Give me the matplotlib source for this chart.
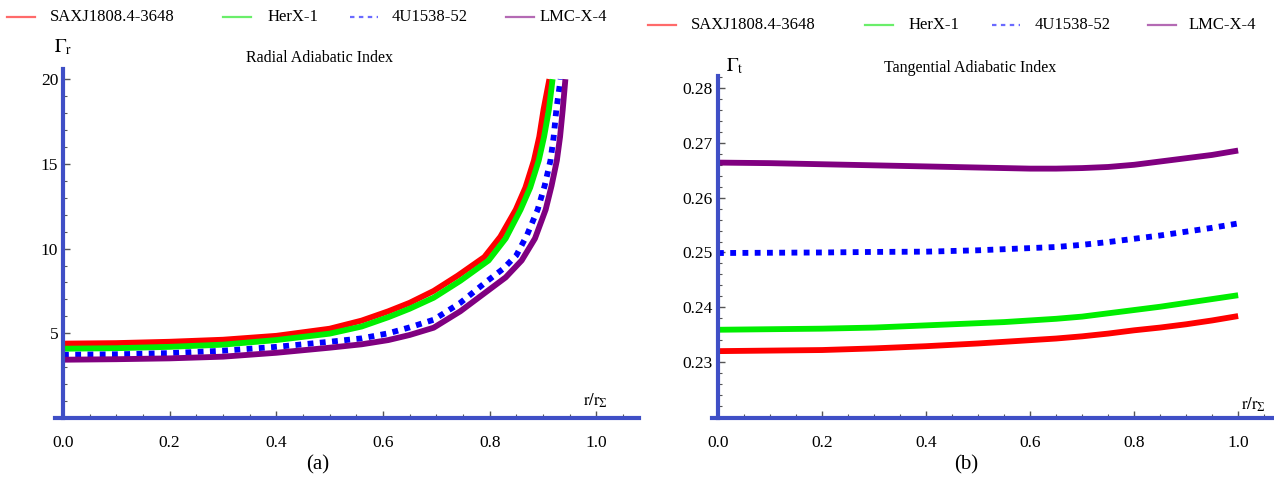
import numpy as np
import matplotlib
matplotlib.use('Agg')
import matplotlib.pyplot as plt
from matplotlib.ticker import MultipleLocator, FormatStrFormatter

plt.rcParams['font.family'] = ['Liberation Serif', 'DejaVu Serif']
plt.rcParams['mathtext.fontset'] = 'stix'

names = ['SAXJ1808.4-3648', 'HerX-1', '4U1538-52', 'LMC-X-4']
colors = ['#ff0000', '#00ee00', '#0000ff', '#800080']
leg_colors = ['#ff6a6a', '#6aee6a', '#6a6aff', '#b46ab4']

# radial adiabatic index (panel a)
r_red = [0.0, 0.1, 0.2, 0.3, 0.4, 0.5, 0.56, 0.61, 0.65, 0.695, 0.74, 0.79, 0.82, 0.849, 0.867, 0.883, 0.893, 0.901, 0.912]
g_red = [4.39, 4.42, 4.5, 4.62, 4.85, 5.27, 5.75, 6.3, 6.8, 7.5, 8.4, 9.5, 10.7, 12.3, 13.6, 15.2, 16.6, 18.2, 20.0]
r_grn = [0.0, 0.1, 0.2, 0.3, 0.4, 0.5, 0.56, 0.61, 0.65, 0.695, 0.745, 0.798, 0.83, 0.858, 0.876, 0.892, 0.902, 0.911, 0.918]
g_grn = [4.09, 4.12, 4.2, 4.33, 4.6, 4.98, 5.4, 5.95, 6.45, 7.1, 8.1, 9.3, 10.6, 12.3, 13.6, 15.2, 16.6, 18.2, 20.0]
r_blu = [0.0, 0.1, 0.2, 0.3, 0.4, 0.5, 0.56, 0.61, 0.65, 0.695, 0.745, 0.796, 0.825, 0.85, 0.87, 0.89, 0.903, 0.914, 0.92, 0.925, 0.933]
g_blu = [3.73, 3.76, 3.83, 3.97, 4.2, 4.5, 4.7, 5.0, 5.35, 5.8, 6.8, 8.1, 8.8, 9.6, 10.8, 12.3, 13.7, 15.2, 16.6, 18.2, 20.0]
r_pur = [0.0, 0.1, 0.2, 0.3, 0.4, 0.5, 0.56, 0.61, 0.65, 0.695, 0.745, 0.796, 0.83, 0.86, 0.885, 0.905, 0.916, 0.926, 0.932, 0.937, 0.942]
g_pur = [3.44, 3.47, 3.52, 3.62, 3.85, 4.15, 4.35, 4.6, 4.9, 5.33, 6.3, 7.5, 8.3, 9.3, 10.6, 12.3, 13.7, 15.2, 16.6, 18.2, 20.0]

# tangential adiabatic index (panel b)
r_t = [0.0, 0.1, 0.2, 0.3, 0.4, 0.5, 0.55, 0.6, 0.65, 0.7, 0.75, 0.8, 0.85, 0.9, 0.95, 1.0]
t_red = [0.2320, 0.2321, 0.2322, 0.2325, 0.2329, 0.2334, 0.2337, 0.2340, 0.2343, 0.2347, 0.2352, 0.2358, 0.2363, 0.2369, 0.2376, 0.2384]
t_grn = [0.2359, 0.2360, 0.2361, 0.2363, 0.2367, 0.2371, 0.2373, 0.2376, 0.2379, 0.2383, 0.2389, 0.2395, 0.2401, 0.2408, 0.2415, 0.2422]
t_blu = [0.2499, 0.24995, 0.2500, 0.2501, 0.25015, 0.2504, 0.2506, 0.2508, 0.2510, 0.2514, 0.2519, 0.2525, 0.2531, 0.2538, 0.2545, 0.2553]
t_pur = [0.2664, 0.2663, 0.2661, 0.2659, 0.2657, 0.2655, 0.2654, 0.2653, 0.2653, 0.2654, 0.2656, 0.2660, 0.2666, 0.2672, 0.2678, 0.2686]

axis_col = '#3f4fc6'
W, H = 1274, 480
fig = plt.figure(figsize=(W / 100, H / 100), dpi=100)


def style_axes(ax, xr, yr):
    for s in ['top', 'right']:
        ax.spines[s].set_visible(False)
    ax.spines['left'].set_position(('data', 0))
    for s in ['left', 'bottom']:
        ax.spines[s].set_color(axis_col)
        ax.spines[s].set_linewidth(3)
    ax.set_xlim(*xr)
    ax.set_ylim(*yr)
    ax.xaxis.set_major_locator(MultipleLocator(0.2))
    ax.xaxis.set_minor_locator(MultipleLocator(0.05))
    ax.xaxis.set_major_formatter(FormatStrFormatter('%.1f'))
    ax.tick_params(which='both', direction='in', color='#555555', labelsize=12.5)
    ax.tick_params(which='major', length=5, width=1)
    ax.tick_params(which='minor', length=3, width=0.8)
    ax.tick_params(axis='x', pad=12)
    ax.patch.set_alpha(0)


def draw(ax, x, y, i):
    if i == 2:
        ax.plot(x, y, color=colors[i], lw=4.2, ls=(0, (1, 1.1)), dash_capstyle='butt',
                solid_joinstyle='round')
    else:
        ax.plot(x, y, color=colors[i], lw=4.2, solid_capstyle='butt', solid_joinstyle='round')


# panel (a)
ax1 = fig.add_axes([55 / W, 62 / H, 584 / W, 349 / H])
series_a = [(r_red, g_red), (r_grn, g_grn), (r_blu, g_blu), (r_pur, g_pur)]
for i, (x, y) in enumerate(series_a):
    draw(ax1, x, y, i)
style_axes(ax1, (-0.015, 1.08), (0, 20.6))
ax1.set_yticks([5, 10, 15, 20])
ax1.set_yticks(np.arange(1, 21, 1), minor=True)
ax1.text(0.0, 21.3, r'$\Gamma_{\mathrm{r}}$', fontsize=14, ha='center', va='bottom')
ax1.text(0.975, 0.5, r'$\mathrm{r/r}_{\Sigma}$', fontsize=12, ha='left', va='bottom')

# panel (b)
ax2 = fig.add_axes([712 / W, 62 / H, 561 / W, 342 / H])
series_b = [t_red, t_grn, t_blu, t_pur]
for i, y in enumerate(series_b):
    draw(ax2, r_t, y, i)
style_axes(ax2, (-0.0115, 1.067), (0.2198, 0.2822))
ax2.set_yticks([0.23, 0.24, 0.25, 0.26, 0.27, 0.28])
ax2.yaxis.set_major_formatter(FormatStrFormatter('%.2f'))
ax2.yaxis.set_minor_locator(MultipleLocator(0.002))
ax2.text(0.015, 0.2822, r'$\Gamma_{\mathrm{t}}$', fontsize=14, ha='left', va='bottom')
ax2.text(1.005, 0.2205, r'$\mathrm{r/r}_{\Sigma}$', fontsize=12, ha='left', va='bottom')

fig.text(320 / W, 1 - 58 / H, 'Radial Adiabatic Index', fontsize=11.5, ha='center', va='center')
fig.text(970 / W, 1 - 68 / H, 'Tangential Adiabatic Index', fontsize=11.5, ha='center', va='center')

# legends drawn as rows of sample lines + labels in figure pixels
leg_a = [(7, 50), (223, 268), (350, 392), (506, 540)]
leg_b = [(648, 691), (865, 909), (992, 1035), (1148, 1189)]
for row, yy in [(leg_a, 17), (leg_b, 25)]:
    for i, (lx, tx) in enumerate(row):
        ls = (0, (2, 2)) if i == 2 else '-'
        fig.add_artist(plt.Line2D([lx / W, (lx + 28) / W], [1 - yy / H, 1 - yy / H],
                                  color=leg_colors[i], lw=1.6, ls=ls, transform=fig.transFigure))
        fig.text(tx / W, 1 - yy / H, names[i], fontsize=12, ha='left', va='center')

fig.text(318 / W, 1 - 465 / H, '(a)', fontsize=15, ha='center', va='center')
fig.text(966 / W, 1 - 465 / H, '(b)', fontsize=15, ha='center', va='center')

fig.savefig('out.png', dpi=100)
